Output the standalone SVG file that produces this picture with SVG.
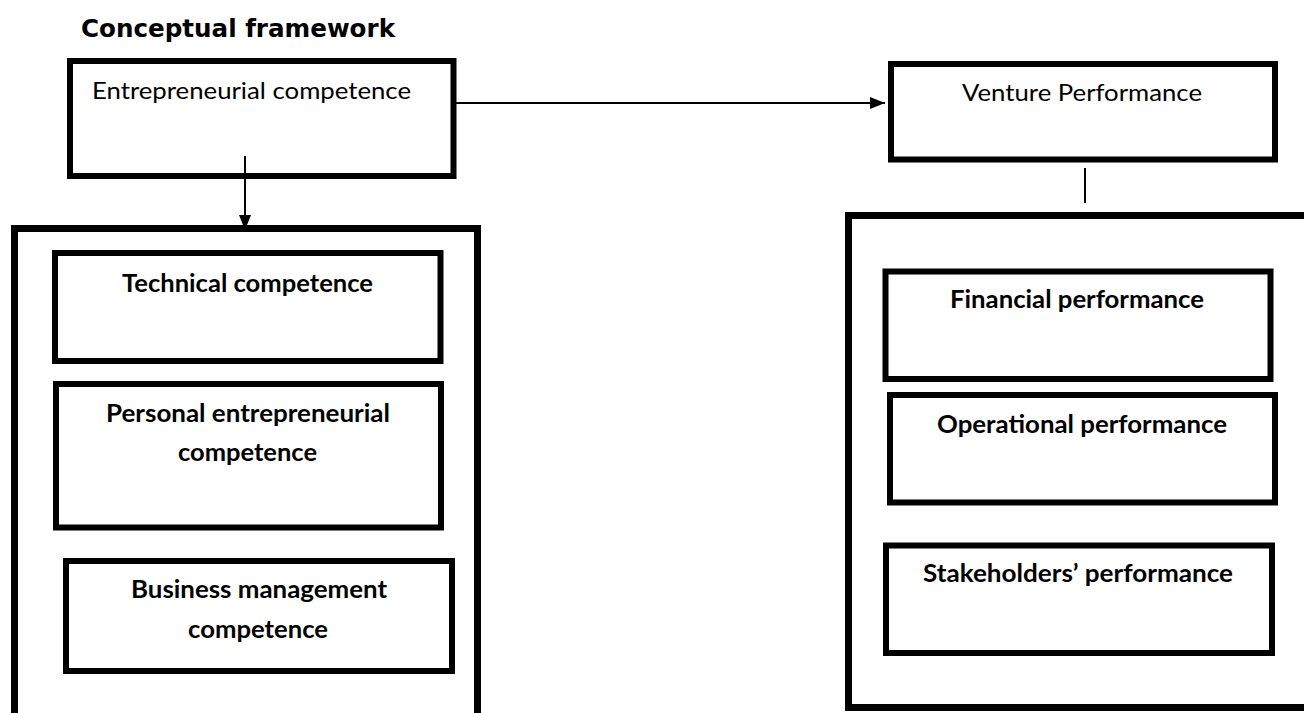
<svg xmlns="http://www.w3.org/2000/svg" width="1304" height="713" viewBox="0 0 1304 713">
<style>
.box{fill:none;stroke:#000;stroke-width:6}
.big{fill:none;stroke:#000;stroke-width:7}
.t{font-family:Lato,"Open Sans","Liberation Sans",sans-serif;font-size:23px;fill:#000}
.b{font-weight:bold;font-size:24px}
.title{font-family:"DejaVu Sans Condensed","DejaVu Sans",Verdana,sans-serif;font-weight:bold;font-size:25px;fill:#000}
.conn{stroke:#000;stroke-width:2;fill:none}
</style>
<defs>
<marker id="ah" markerUnits="userSpaceOnUse" markerWidth="16" markerHeight="12" refX="15" refY="6" orient="auto">
<path d="M0,0 L15,6 L0,12 z" fill="#000"/>
</marker>
</defs>
<rect width="1304" height="713" fill="#fff"/>
<text class="title" x="81" y="37" textLength="314" lengthAdjust="spacingAndGlyphs">Conceptual framework</text>

<g id="entrepreneurial-competence">
<rect class="box" x="70" y="61" width="383.5" height="115"/>
<text class="t" x="92" y="99" textLength="319" lengthAdjust="spacingAndGlyphs">Entrepreneurial competence</text>
</g>

<g id="venture-performance">
<rect class="box" x="891" y="64" width="384" height="95.5"/>
<text class="t" x="962" y="101" textLength="240" lengthAdjust="spacingAndGlyphs">Venture Performance</text>
</g>

<g id="competence-group">
<rect class="big" x="14.5" y="228.5" width="463" height="520"/>
</g>

<g id="technical-competence">
<rect class="box" x="55" y="253" width="385.5" height="108"/>
<text class="t b" x="122" y="292" textLength="251" lengthAdjust="spacingAndGlyphs">Technical competence</text>
</g>

<g id="personal-entrepreneurial-competence">
<rect class="box" x="56" y="384" width="385" height="143.5"/>
<text class="t b" x="106" y="422" textLength="284" lengthAdjust="spacingAndGlyphs">Personal entrepreneurial</text>
<text class="t b" x="178" y="461" textLength="139" lengthAdjust="spacingAndGlyphs">competence</text>
</g>

<g id="business-management-competence">
<rect class="box" x="66" y="561" width="386" height="110"/>
<text class="t b" x="131" y="598" textLength="256" lengthAdjust="spacingAndGlyphs">Business management</text>
<text class="t b" x="188" y="638" textLength="140" lengthAdjust="spacingAndGlyphs">competence</text>
</g>

<g id="performance-group">
<rect class="big" x="848.5" y="215.5" width="520" height="492"/>
</g>

<g id="financial-performance">
<rect class="box" x="885.5" y="271.5" width="385" height="107.5"/>
<text class="t b" x="950" y="308" textLength="254" lengthAdjust="spacingAndGlyphs">Financial performance</text>
</g>

<g id="operational-performance">
<rect class="box" x="890" y="395" width="385" height="107.5"/>
<text class="t b" x="937" y="433" textLength="290" lengthAdjust="spacingAndGlyphs">Operational performance</text>
</g>

<g id="stakeholders-performance">
<rect class="box" x="886" y="545.5" width="386" height="107.5"/>
<text class="t b" x="923" y="582" textLength="310" lengthAdjust="spacingAndGlyphs">Stakeholders’ performance</text>
</g>

<g id="connectors">
<line class="conn" x1="456" y1="103" x2="885" y2="103" marker-end="url(#ah)"/>
<line class="conn" x1="245" y1="156" x2="245" y2="230" marker-end="url(#ah)"/>
<line class="conn" x1="1085" y1="168" x2="1085" y2="203"/>
</g>
</svg>
